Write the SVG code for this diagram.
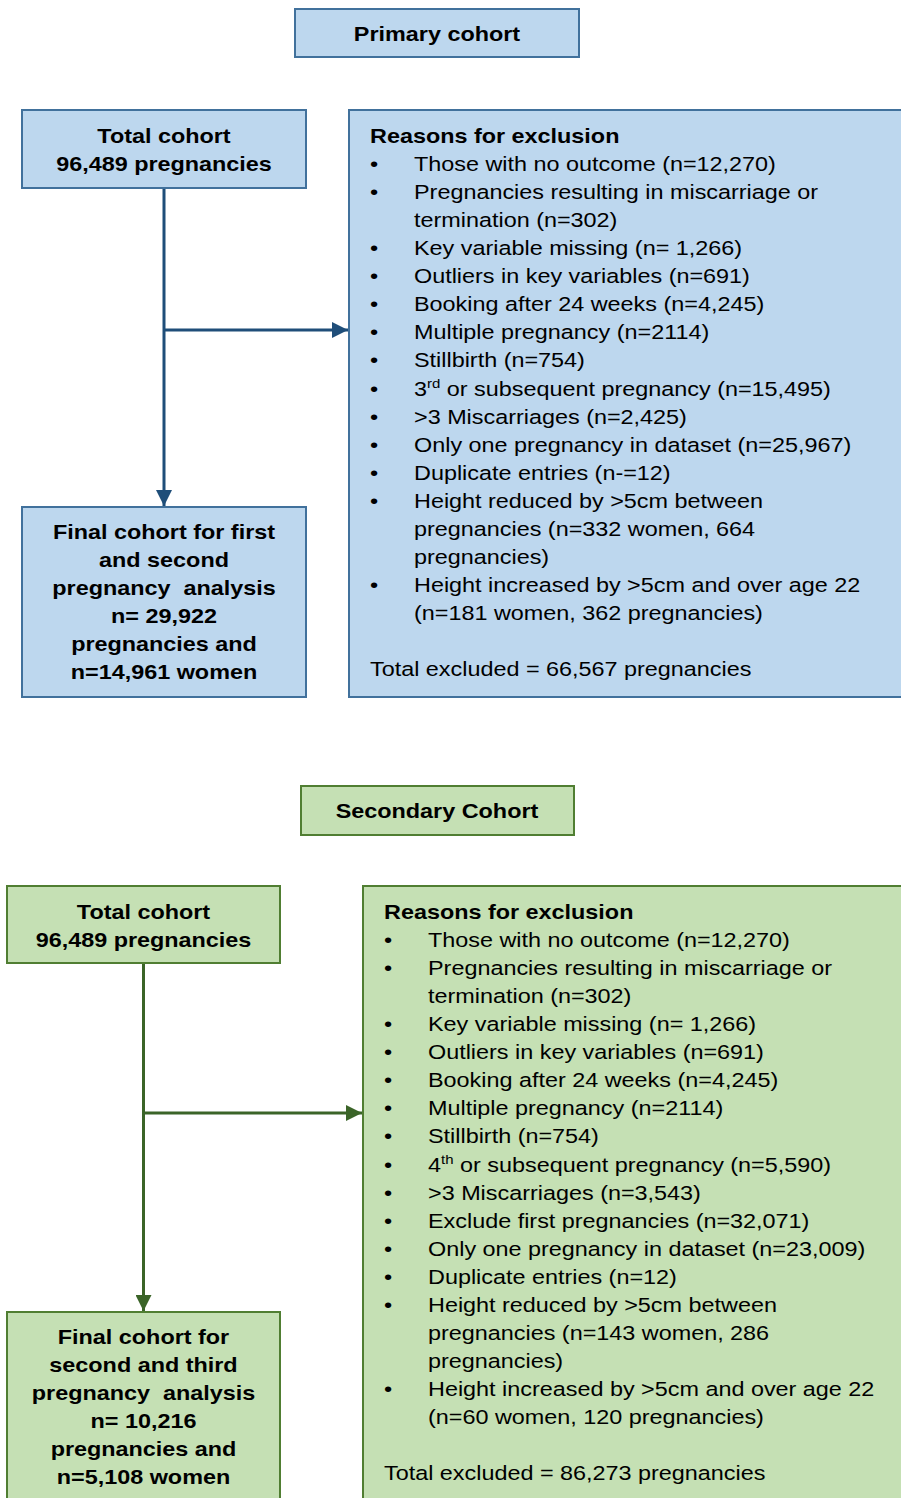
<svg xmlns="http://www.w3.org/2000/svg" width="901" height="1498" viewBox="0 0 901 1498">
<defs>
<style>
text{font-family:"Liberation Sans",Arial,sans-serif;font-size:19.5px;fill:#000;white-space:pre}
.b{font-weight:bold}
.m{text-anchor:middle}
.blue{fill:#BDD7EE;stroke:#41719C;stroke-width:2}
.green{fill:#C5E0B4;stroke:#507E32;stroke-width:2}
.cb{stroke:#1F4E79;stroke-width:3;fill:none}
.cg{stroke:#3B6428;stroke-width:3;fill:none}
.sup{font-size:12.5px}
</style>
<marker id="ab" markerUnits="userSpaceOnUse" markerWidth="16" markerHeight="16" refX="16" refY="8" orient="auto"><path d="M0,0 L16,8 L0,16 Z" fill="#1F4E79"/></marker>
<marker id="ag" markerUnits="userSpaceOnUse" markerWidth="16" markerHeight="16" refX="16" refY="8" orient="auto"><path d="M0,0 L16,8 L0,16 Z" fill="#3B6428"/></marker>
</defs>
<rect width="901" height="1498" fill="#fff"/>

<g id="connectors">
<line class="cb" x1="164" y1="188" x2="164" y2="506" marker-end="url(#ab)"/>
<line class="cb" x1="164" y1="330" x2="348" y2="330" marker-end="url(#ab)"/>
<line class="cg" x1="143.5" y1="963" x2="143.5" y2="1311" marker-end="url(#ag)"/>
<line class="cg" x1="143.5" y1="1113" x2="362" y2="1113" marker-end="url(#ag)"/>
</g>

<g id="primary-header">
<rect class="blue" x="295" y="9" width="284" height="48"/>
<text class="b m" transform="matrix(1.2 0 0 1 437 41)">Primary cohort</text>
</g>

<g id="primary-total">
<rect class="blue" x="22" y="110" width="284" height="78"/>
<text class="b m" transform="matrix(1.2 0 0 1 164 143)">Total cohort</text>
<text class="b m" transform="matrix(1.2 0 0 1 164 171)">96,489 pregnancies</text>
</g>

<g id="primary-exclusion">
<rect class="blue" x="349" y="110" width="570" height="587"/>
<text class="b" transform="matrix(1.2 0 0 1 370 143)">Reasons for exclusion</text>
<g>
<text transform="matrix(1.2 0 0 1 370 171)">•</text>
<text transform="matrix(1.2 0 0 1 414 171)">Those with no outcome (n=12,270)</text>
<text transform="matrix(1.2 0 0 1 370 199)">•</text>
<text transform="matrix(1.2 0 0 1 414 199)">Pregnancies resulting in miscarriage or</text>
<text transform="matrix(1.2 0 0 1 414 227)">termination (n=302)</text>
<text transform="matrix(1.2 0 0 1 370 255)">•</text>
<text transform="matrix(1.2 0 0 1 414 255)">Key variable missing (n= 1,266)</text>
<text transform="matrix(1.2 0 0 1 370 283)">•</text>
<text transform="matrix(1.2 0 0 1 414 283)">Outliers in key variables (n=691)</text>
<text transform="matrix(1.2 0 0 1 370 311)">•</text>
<text transform="matrix(1.2 0 0 1 414 311)">Booking after 24 weeks (n=4,245)</text>
<text transform="matrix(1.2 0 0 1 370 339)">•</text>
<text transform="matrix(1.2 0 0 1 414 339)">Multiple pregnancy (n=2114)</text>
<text transform="matrix(1.2 0 0 1 370 367)">•</text>
<text transform="matrix(1.2 0 0 1 414 367)">Stillbirth (n=754)</text>
<text transform="matrix(1.2 0 0 1 370 395.5)">•</text>
<text transform="matrix(1.2 0 0 1 414 395.5)">3<tspan class="sup" dy="-8">rd</tspan><tspan dy="8"> or subsequent pregnancy (n=15,495)</tspan></text>
<text transform="matrix(1.2 0 0 1 370 423.5)">•</text>
<text transform="matrix(1.2 0 0 1 414 423.5)">&gt;3 Miscarriages (n=2,425)</text>
<text transform="matrix(1.2 0 0 1 370 451.5)">•</text>
<text transform="matrix(1.2 0 0 1 414 451.5)">Only one pregnancy in dataset (n=25,967)</text>
<text transform="matrix(1.2 0 0 1 370 479.5)">•</text>
<text transform="matrix(1.2 0 0 1 414 479.5)">Duplicate entries (n-=12)</text>
<text transform="matrix(1.2 0 0 1 370 507.5)">•</text>
<text transform="matrix(1.2 0 0 1 414 507.5)">Height reduced by &gt;5cm between</text>
<text transform="matrix(1.2 0 0 1 414 535.5)">pregnancies (n=332 women, 664</text>
<text transform="matrix(1.2 0 0 1 414 563.5)">pregnancies)</text>
<text transform="matrix(1.2 0 0 1 370 591.5)">•</text>
<text transform="matrix(1.2 0 0 1 414 591.5)">Height increased by &gt;5cm and over age 22</text>
<text transform="matrix(1.2 0 0 1 414 619.5)">(n=181 women, 362 pregnancies)</text>
<text transform="matrix(1.2 0 0 1 370 676)">Total excluded = 66,567 pregnancies</text>
</g>
</g>

<g id="primary-final">
<rect class="blue" x="22" y="507" width="284" height="190"/>
<text class="b m" transform="matrix(1.2 0 0 1 164 539)">Final cohort for first</text>
<text class="b m" transform="matrix(1.2 0 0 1 164 567)">and second</text>
<text class="b m" transform="matrix(1.2 0 0 1 164 595)">pregnancy  analysis</text>
<text class="b m" transform="matrix(1.2 0 0 1 164 623)">n= 29,922</text>
<text class="b m" transform="matrix(1.2 0 0 1 164 651)">pregnancies and</text>
<text class="b m" transform="matrix(1.2 0 0 1 164 679)">n=14,961 women</text>
</g>

<g id="secondary-header">
<rect class="green" x="301" y="786" width="273" height="49"/>
<text class="b m" transform="matrix(1.2 0 0 1 437 818)">Secondary Cohort</text>
</g>

<g id="secondary-total">
<rect class="green" x="7" y="886" width="273" height="77"/>
<text class="b m" transform="matrix(1.2 0 0 1 143.5 919)">Total cohort</text>
<text class="b m" transform="matrix(1.2 0 0 1 143.5 947)">96,489 pregnancies</text>
</g>

<g id="secondary-exclusion">
<rect class="green" x="363" y="886" width="560" height="630"/>
<text class="b" transform="matrix(1.2 0 0 1 384 919)">Reasons for exclusion</text>
<text transform="matrix(1.2 0 0 1 384 947)">•</text>
<text transform="matrix(1.2 0 0 1 428 947)">Those with no outcome (n=12,270)</text>
<text transform="matrix(1.2 0 0 1 384 975)">•</text>
<text transform="matrix(1.2 0 0 1 428 975)">Pregnancies resulting in miscarriage or</text>
<text transform="matrix(1.2 0 0 1 428 1003)">termination (n=302)</text>
<text transform="matrix(1.2 0 0 1 384 1031)">•</text>
<text transform="matrix(1.2 0 0 1 428 1031)">Key variable missing (n= 1,266)</text>
<text transform="matrix(1.2 0 0 1 384 1059)">•</text>
<text transform="matrix(1.2 0 0 1 428 1059)">Outliers in key variables (n=691)</text>
<text transform="matrix(1.2 0 0 1 384 1087)">•</text>
<text transform="matrix(1.2 0 0 1 428 1087)">Booking after 24 weeks (n=4,245)</text>
<text transform="matrix(1.2 0 0 1 384 1115)">•</text>
<text transform="matrix(1.2 0 0 1 428 1115)">Multiple pregnancy (n=2114)</text>
<text transform="matrix(1.2 0 0 1 384 1143)">•</text>
<text transform="matrix(1.2 0 0 1 428 1143)">Stillbirth (n=754)</text>
<text transform="matrix(1.2 0 0 1 384 1171.5)">•</text>
<text transform="matrix(1.2 0 0 1 428 1171.5)">4<tspan class="sup" dy="-8">th</tspan><tspan dy="8"> or subsequent pregnancy (n=5,590)</tspan></text>
<text transform="matrix(1.2 0 0 1 384 1199.5)">•</text>
<text transform="matrix(1.2 0 0 1 428 1199.5)">&gt;3 Miscarriages (n=3,543)</text>
<text transform="matrix(1.2 0 0 1 384 1227.5)">•</text>
<text transform="matrix(1.2 0 0 1 428 1227.5)">Exclude first pregnancies (n=32,071)</text>
<text transform="matrix(1.2 0 0 1 384 1255.5)">•</text>
<text transform="matrix(1.2 0 0 1 428 1255.5)">Only one pregnancy in dataset (n=23,009)</text>
<text transform="matrix(1.2 0 0 1 384 1283.5)">•</text>
<text transform="matrix(1.2 0 0 1 428 1283.5)">Duplicate entries (n=12)</text>
<text transform="matrix(1.2 0 0 1 384 1311.5)">•</text>
<text transform="matrix(1.2 0 0 1 428 1311.5)">Height reduced by &gt;5cm between</text>
<text transform="matrix(1.2 0 0 1 428 1339.5)">pregnancies (n=143 women, 286</text>
<text transform="matrix(1.2 0 0 1 428 1367.5)">pregnancies)</text>
<text transform="matrix(1.2 0 0 1 384 1396)">•</text>
<text transform="matrix(1.2 0 0 1 428 1396)">Height increased by &gt;5cm and over age 22</text>
<text transform="matrix(1.2 0 0 1 428 1424)">(n=60 women, 120 pregnancies)</text>
<text transform="matrix(1.2 0 0 1 384 1480)">Total excluded = 86,273 pregnancies</text>
</g>

<g id="secondary-final">
<rect class="green" x="7" y="1312" width="273" height="200"/>
<text class="b m" transform="matrix(1.2 0 0 1 143.5 1344)">Final cohort for</text>
<text class="b m" transform="matrix(1.2 0 0 1 143.5 1372)">second and third</text>
<text class="b m" transform="matrix(1.2 0 0 1 143.5 1400)">pregnancy  analysis</text>
<text class="b m" transform="matrix(1.2 0 0 1 143.5 1428)">n= 10,216</text>
<text class="b m" transform="matrix(1.2 0 0 1 143.5 1456)">pregnancies and</text>
<text class="b m" transform="matrix(1.2 0 0 1 143.5 1484)">n=5,108 women</text>
</g>
</svg>
